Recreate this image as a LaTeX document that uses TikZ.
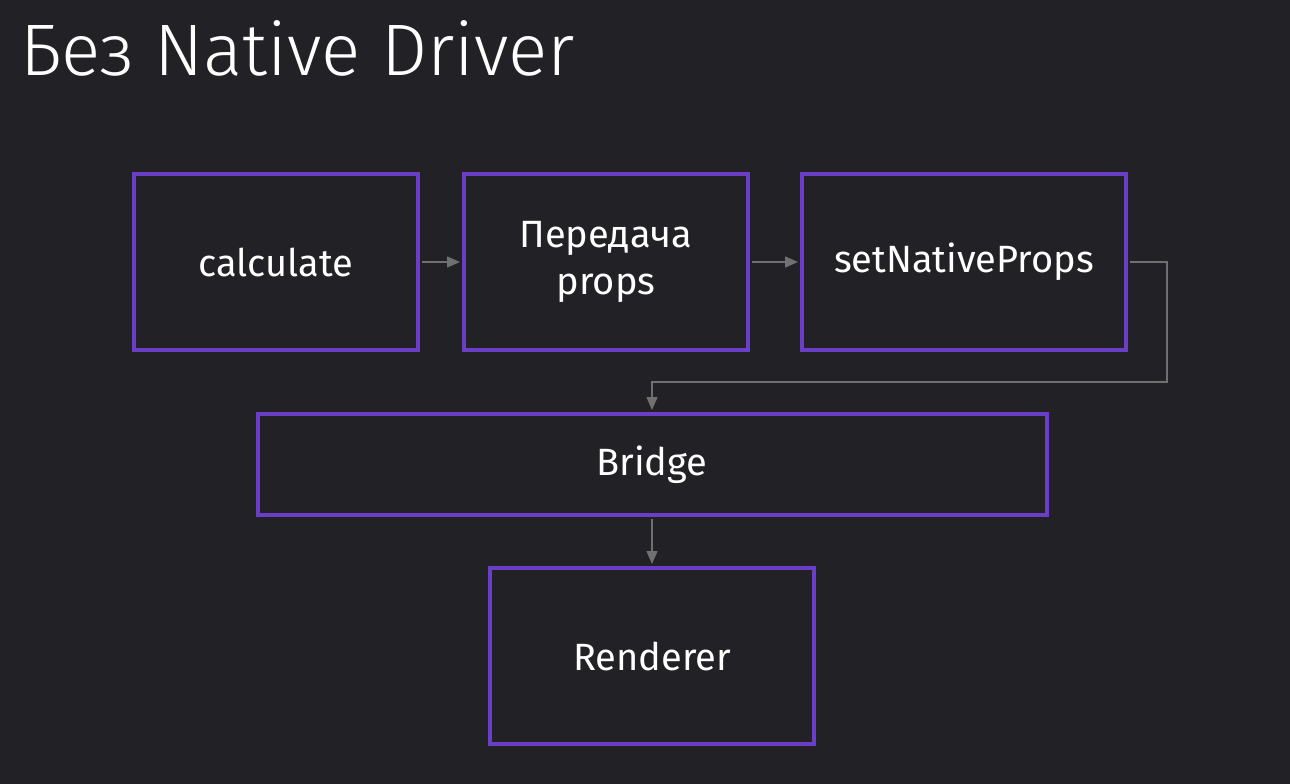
\documentclass[tikz,border=0pt]{standalone}
\usepackage{fontspec}
\setmainfont{Fira Sans}
\newfontfamily\titlefont{Fira Sans Light}
\usetikzlibrary{arrows.meta}
\definecolor{bg}{HTML}{222226}
\definecolor{pur}{HTML}{6A3FC6}
\definecolor{conn}{HTML}{707070}
\begin{document}
\begin{tikzpicture}[x=1pt,y=-1pt,
  box/.style={draw=pur, line width=4pt, text=white, font=\fontsize{38}{47}\selectfont, align=center, inner sep=0pt, minimum height=176pt},
  conn/.style={draw=conn, line width=1.5pt, -{Triangle[length=13pt,width=11pt]}, shorten >=2pt, shorten <=2pt}]
\fill[bg] (0,0) rectangle (1290,784);
\useasboundingbox (0,0) rectangle (1290,784);
\node[anchor=base west, text=white, inner sep=0pt, font=\titlefont\fontsize{73}{76}\selectfont] (title) at (20,75) {Без Native Driver};
\node[box, minimum width=284pt] (calc) at (276,262) {calculate};
\node[box, minimum width=284pt] (pass) at (606,262) {Передача\\props};
\node[box, minimum width=324pt] (set) at (964,262) {setNativeProps};
\node[box, minimum width=789pt, minimum height=101pt] (bridge) at (652,464.5) {Bridge};
\node[box, minimum width=324pt] (rend) at (652,656) {Renderer};
\coordinate (c1) at (1167,382);
\draw[conn] (calc) -- (pass);
\draw[conn] (pass) -- (set);
\draw[conn] (set.east) -| (c1) -| (bridge.north);
\draw[conn] (bridge.south) -- (rend.north);
\end{tikzpicture}
\end{document}
